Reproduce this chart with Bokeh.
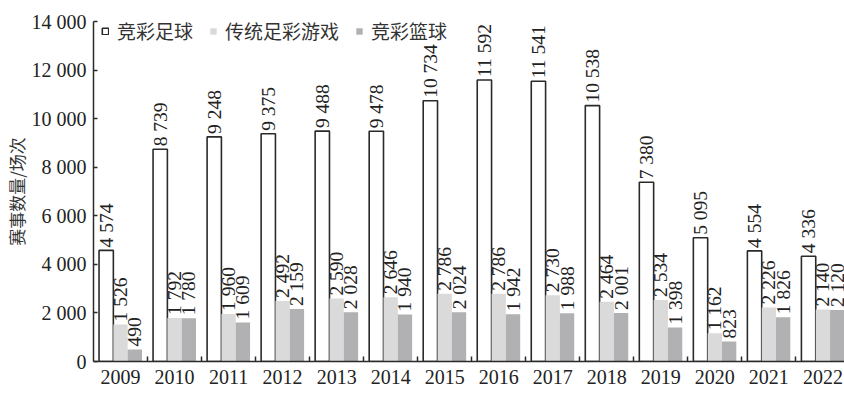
import numpy as np
from bokeh.plotting import figure
from bokeh.models import Range1d, FixedTicker, Label, ColumnDataSource
from bokeh.core.properties import value
from bokeh.embed import file_html
from bokeh.resources import INLINE

years = ["2009", "2010", "2011", "2012", "2013", "2014", "2015",
         "2016", "2017", "2018", "2019", "2020", "2021", "2022"]
jc_football = [4574, 8739, 9248, 9375, 9488, 9478, 10734, 11592, 11541, 10538, 7380, 5095, 4554, 4336]
trad_football = [1526, 1792, 1960, 2492, 2590, 2646, 2786, 2786, 2730, 2464, 2534, 1162, 2226, 2140]
jc_basketball = [490, 1780, 1609, 2159, 2028, 1940, 2024, 1942, 1988, 2001, 1398, 823, 1826, 2120]
series_names = ["竞彩足球", "传统足彩游戏", "竞彩篮球"]
y_ticks = [0, 2000, 4000, 6000, 8000, 10000, 12000, 14000]

SERIF = "Liberation Serif"
CJK = "Noto Sans CJK SC"

def fmt(v):
    return f"{v:,}".replace(",", " ")

n = len(years)
centers = np.arange(n) + 0.5
bw = 0.265
offsets = [-bw, 0.0, bw]
fills = ["white", "#dadada", "#b1b1b4"]
lines = ["#2a2a2a", None, None]
all_series = [jc_football, trad_football, jc_basketball]

p = figure(width=844, height=409, x_range=Range1d(0, 13.9), y_range=Range1d(0, 14000),
           output_backend="svg", toolbar_location=None,
           min_border_left=93, min_border_right=0, min_border_top=21, min_border_bottom=48)
p.outline_line_color = None
p.xgrid.visible = False
p.ygrid.visible = False
p.background_fill_color = "white"
p.border_fill_color = "white"

for vals, off, fc, lc, name in zip(all_series, offsets, fills, lines, series_names):
    src = ColumnDataSource(dict(x=centers + off, top=vals, lab=[fmt(v) for v in vals]))
    p.vbar(x="x", top="top", width=bw, source=src, fill_color=fc,
           line_color=lc, line_width=1.6, legend_label=name)
    p.text(x="x", y="top", text="lab", source=src, angle=np.pi / 2,
           text_align="left", text_baseline="middle", y_offset=-3,
           text_font=value(SERIF), text_font_size="19.5px", text_color="#222222")

# x axis
xa = p.xaxis[0]
xa.ticker = FixedTicker(ticks=list(centers), minor_ticks=list(np.arange(1, n)))
xa.major_label_overrides = {float(c): y for c, y in zip(centers, years)}
xa.major_tick_in = 0
xa.major_tick_out = 0
xa.minor_tick_in = 5
xa.minor_tick_out = 0
xa.minor_tick_line_color = "#2a2a2a"
xa.minor_tick_line_width = 1.5
xa.axis_line_color = "#2a2a2a"
xa.axis_line_width = 1.5
xa.major_label_text_font = SERIF
xa.major_label_text_font_size = "20px"
xa.major_label_text_color = "#222222"
xa.major_label_standoff = 8

# y axis
ya = p.yaxis[0]
ya.ticker = FixedTicker(ticks=y_ticks)
ya.major_label_overrides = {t: fmt(t) for t in y_ticks}
ya.major_tick_in = 4
ya.major_tick_out = 0
ya.minor_tick_in = 0
ya.minor_tick_out = 0
ya.major_tick_line_color = "#2a2a2a"
ya.major_tick_line_width = 1.5
ya.minor_tick_line_color = None
ya.axis_line_color = "#2a2a2a"
ya.axis_line_width = 1.5
ya.major_label_text_font = SERIF
ya.major_label_text_font_size = "20px"
ya.major_label_text_color = "#222222"
ya.major_label_standoff = 7
ya.axis_label = "赛事数量/场次"
ya.axis_label_text_font = CJK
ya.axis_label_text_font_size = "17px"
ya.axis_label_text_font_style = "normal"
ya.axis_label_text_color = "#333333"
ya.axis_label_standoff = 0

p.add_layout(Label(x=388, y=-30, x_units="screen", y_units="screen", text="年份",
                   text_font=CJK, text_font_size="17px", text_color="#333333",
                   text_align="center", text_baseline="middle"))

leg = p.legend[0]
leg.orientation = "horizontal"
leg.location = (8, 317)
leg.padding = 0
leg.margin = 0
leg.spacing = 16
leg.glyph_width = 8
leg.glyph_height = 8
leg.label_standoff = 8
leg.label_height = 26
leg.border_line_color = None
leg.background_fill_alpha = 0
leg.label_text_font = CJK
leg.label_text_font_size = "19px"
leg.label_text_color = "#333333"

open("out.html", "w").write(file_html(p, INLINE))
